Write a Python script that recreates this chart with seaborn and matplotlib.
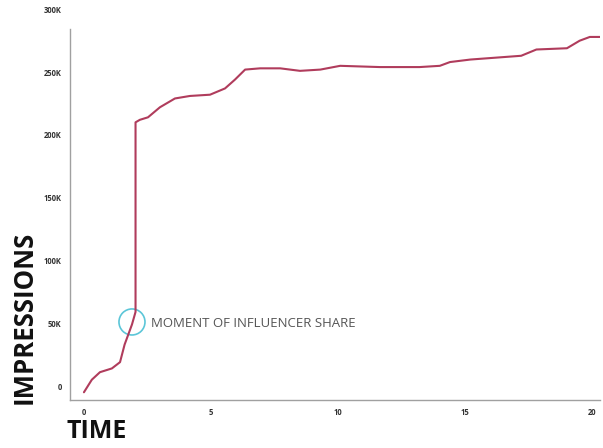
import matplotlib
matplotlib.use("Agg")
import matplotlib.pyplot as plt
import pandas as pd
import seaborn as sns
from matplotlib.patches import Ellipse

# days since start
days = [0.0, 0.31, 0.63, 1.1, 1.42, 1.6, 1.89, 2.03, 2.03, 2.2, 2.52, 2.99,
        3.58, 4.17, 4.96, 5.55, 5.94, 6.34, 6.93, 7.72, 8.5, 9.3, 10.08,
        11.65, 13.2, 14.0, 14.4, 15.2, 17.2, 17.8, 19.0, 19.5, 19.9, 20.4]
# impressions (thousands)
impressions = [-5, 5, 11, 14, 19, 33, 49, 59, 210, 212, 214, 222,
               229, 231, 232, 237, 244, 252, 253, 253, 251, 252, 255,
               254, 254, 255, 258, 260, 263, 268, 269, 275, 278, 278]

yticks = [0, 50, 100, 150, 200, 250, 300]
ytick_labels = ["0", "50K", "100K", "150K", "200K", "250K", "300K"]
xticks = [0, 5, 10, 15, 20]

df = pd.DataFrame({"day": days, "impr": impressions})

sns.set_style("white")
plt.rcParams['font.family'] = ['Open Sans', 'DejaVu Sans']

fig = plt.figure(figsize=(6.03, 4.48), dpi=100)
ax = fig.add_axes([0.116, 0.107, 0.879, 0.875])

sns.lineplot(data=df, x="day", y="impr", sort=False, estimator=None,
             color="#b03c5c", linewidth=1.5, ax=ax)

ax.set_xlim(-0.55, 20.3)
ax.set_ylim(-11.2, 301)
ax.set_xticks(xticks)
ax.set_xticklabels([str(t) for t in xticks])
ax.set_yticks(yticks)
ax.set_yticklabels(ytick_labels)
ax.tick_params(axis="both", labelsize=5.5, colors="#999999", length=2,
               width=0.8, pad=4, labelcolor="#333333")
for lab in ax.get_xticklabels() + ax.get_yticklabels():
    lab.set_fontweight("bold")

for s in ["top", "right"]:
    ax.spines[s].set_visible(False)
for s in ["left", "bottom"]:
    ax.spines[s].set_color("#a0a0a0")
    ax.spines[s].set_linewidth(1.0)
ax.spines["left"].set_bounds(-11.2, 284)

# circle around the moment of share
circ = Ellipse((1.89, 51), width=26 / 25.4, height=26 / 62.7 * 50,
               fill=False, edgecolor="#5cc6d8", linewidth=1.2)
ax.add_patch(circ)
ax.text(2.65, 50, "MOMENT OF INFLUENCER SHARE", fontsize=9.5, color="#555555",
        va="center", ha="left")

ax.set_xlabel("")
ax.set_ylabel("")
fig.text(0.040, 0.292, "IMPRESSIONS", rotation=90, fontsize=18.5,
         fontweight="bold", color="#111111", ha="center", va="center")
fig.text(0.110, 0.036, "TIME", fontsize=18, fontweight="bold",
         color="#111111", ha="left", va="center")

fig.savefig("out.png", dpi=100)
